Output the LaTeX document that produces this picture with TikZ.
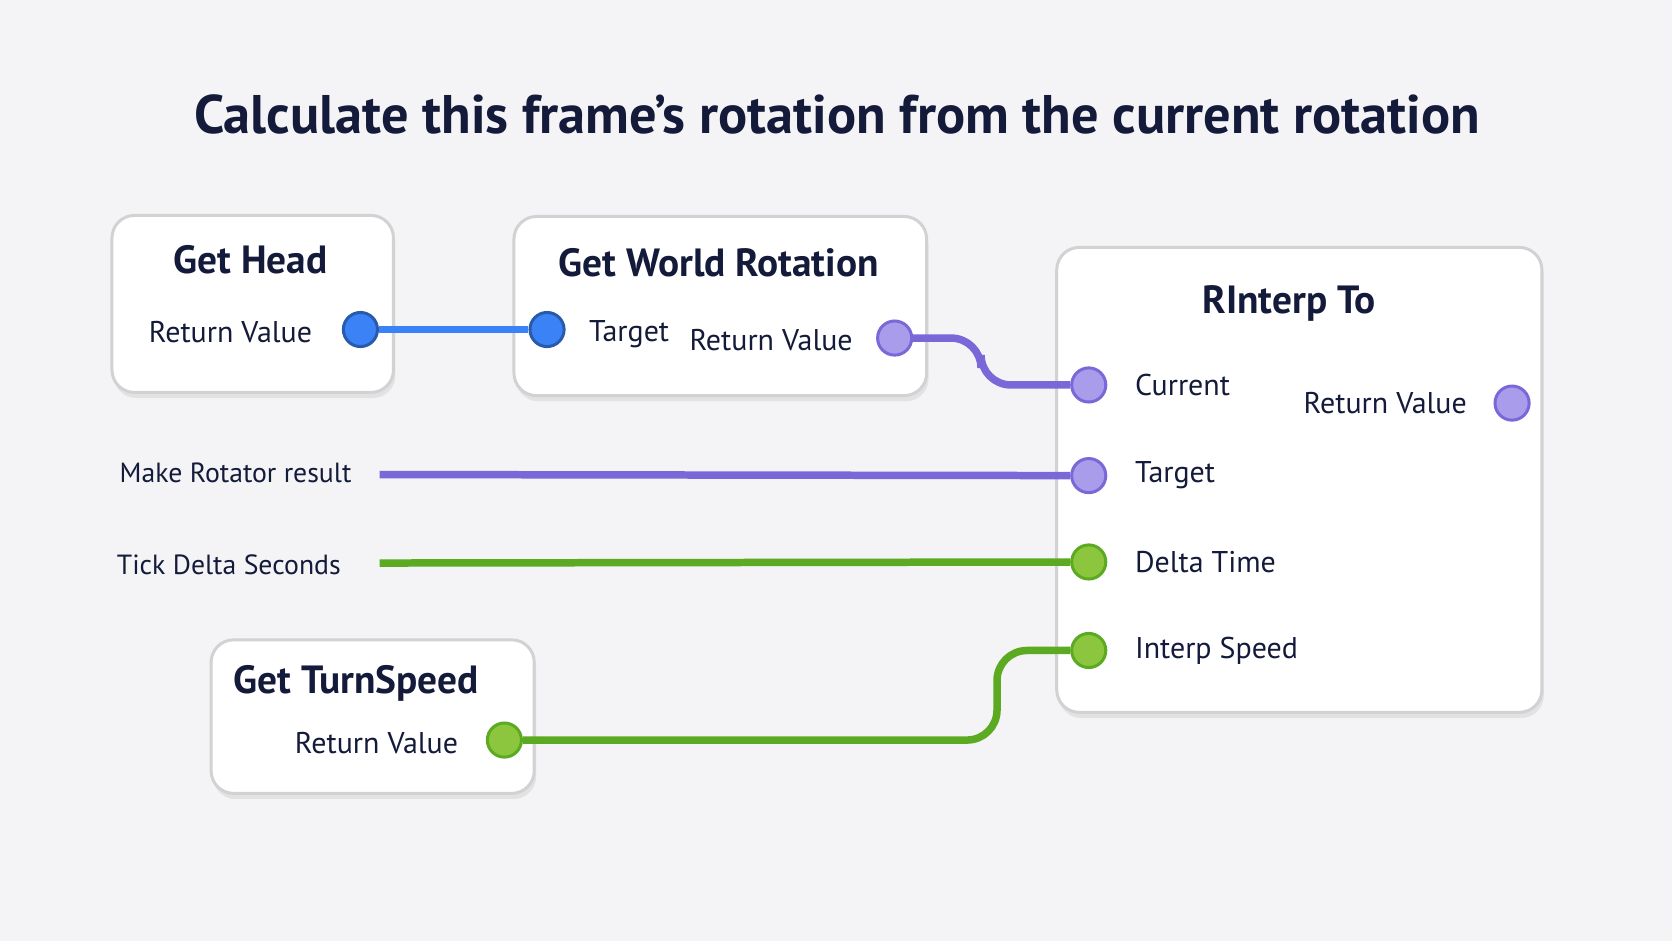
\documentclass[tikz,border=0pt]{standalone}
\usepackage{fontspec}
\setmainfont{PT Sans}
\usetikzlibrary{positioning,calc,shadows}
\definecolor{bgcol}{HTML}{F4F4F6}
\definecolor{navy}{HTML}{141B3A}
\definecolor{bluepin}{HTML}{3B82F6}
\definecolor{purplepin}{HTML}{A99CEB}
\definecolor{purpleline}{HTML}{7A68D8}
\definecolor{greenpin}{HTML}{8CC63F}
\definecolor{greenline}{HTML}{5BAA22}
\tikzset{
    boxsty/.style={draw=gray!35,fill=white,rounded corners=6pt,line width=0.8pt,drop shadow={opacity=0.15,shadow xshift=0.5pt,shadow yshift=-1.5pt}},
    titlesty/.style={font=\fontsize{10.5}{12}\selectfont\bfseries,text=navy},
    labsty/.style={font=\fontsize{8}{10}\selectfont,text=navy},
    freesty/.style={font=\fontsize{7.4}{9}\selectfont,text=navy},
    bpinsty/.style={circle,minimum size=0.32cm,inner sep=0pt,fill=bluepin,draw=bluepin!70!black,line width=0.8pt},
    ppinsty/.style={circle,minimum size=0.32cm,inner sep=0pt,fill=purplepin,draw=purpleline,line width=0.8pt},
    gpinsty/.style={circle,minimum size=0.32cm,inner sep=0pt,fill=greenpin,draw=greenline,line width=0.8pt},
    bwiresty/.style={draw=bluepin,line width=2pt},
    pwiresty/.style={draw=purpleline,line width=2pt,rounded corners=8pt},
    gwiresty/.style={draw=greenline,line width=2pt,rounded corners=8pt},
}
\begin{document}
\begin{tikzpicture}
  \fill[bgcol] (0,0) rectangle (15.68,-8.82);
  \useasboundingbox (0,0) rectangle (15.68,-8.82);
  \node[font=\fontsize{14.5}{17}\selectfont\bfseries,text=navy] (title) at (7.85,-1.07) {Calculate this frame's rotation from the current rotation};

  % boxes
  \draw[boxsty] (1.05,-2.02) rectangle (3.69,-3.68);
  \draw[boxsty] (4.82,-2.03) rectangle (8.69,-3.71);
  \draw[boxsty] (9.91,-2.32) rectangle (14.46,-6.68);
  \draw[boxsty] (1.98,-6.00) rectangle (5.01,-7.44);

  \node[titlesty] (headT) at (2.35,-2.44) {Get Head};
  \node[labsty,anchor=east] (headL) at (3.05,-3.11) {Return Value};
  \node[titlesty] (worldT) at (6.74,-2.46) {Get World Rotation};
  \node[labsty,anchor=west] (worldTg) at (5.40,-3.13) {Target};
  \node[labsty,anchor=east] (worldL) at (8.12,-3.19) {Return Value};
  \node[titlesty] (interpT) at (12.09,-2.85) {RInterp To};
  \node[labsty,anchor=west] (curL) at (10.52,-3.61) {Current};
  \node[labsty,anchor=west] (tgtL) at (10.52,-4.46) {Target};
  \node[labsty,anchor=west] (dtL) at (10.52,-5.27) {Delta Time};
  \node[labsty,anchor=west] (spdL) at (10.52,-6.10) {Interp Speed};
  \node[labsty,anchor=east] (outL) at (13.88,-3.78) {Return Value};
  \node[titlesty] (turnT) at (3.34,-6.41) {Get TurnSpeed};
  \node[labsty,anchor=east] (turnL) at (4.42,-6.97) {Return Value};
  \node[freesty,anchor=east] (rotF) at (3.42,-4.43) {Make Rotator result};
  \node[freesty,anchor=east] (tickF) at (3.32,-5.30) {Tick Delta Seconds};
  \coordinate (rotS) at (3.56,-4.45);
  \coordinate (tickS) at (3.56,-5.28);

  % pins
  \node[bpinsty] (headP) at (3.38,-3.09) {};
  \node[bpinsty] (worldIn) at (5.13,-3.09) {};
  \node[ppinsty] (worldOut) at (8.39,-3.17) {};
  \node[ppinsty] (curP) at (10.21,-3.61) {};
  \node[ppinsty] (tgtP) at (10.21,-4.46) {};
  \node[gpinsty] (dtP) at (10.21,-5.27) {};
  \node[gpinsty] (spdP) at (10.21,-6.10) {};
  \node[ppinsty] (outP) at (14.18,-3.78) {};
  \node[gpinsty] (turnP) at (4.73,-6.94) {};

  % wires
  \draw[bwiresty] (headP) -- (worldIn);
  \draw[pwiresty] (worldOut) -- (9.20,-3.17) -- (9.20,-3.61) -- (curP);
  \draw[pwiresty] (rotS) -- (tgtP);
  \draw[gwiresty] (tickS) -- (dtP);
  \draw[gwiresty] (turnP) -- (9.35,-6.94) -- (9.35,-6.10) -- (spdP);
\end{tikzpicture}
\end{document}
